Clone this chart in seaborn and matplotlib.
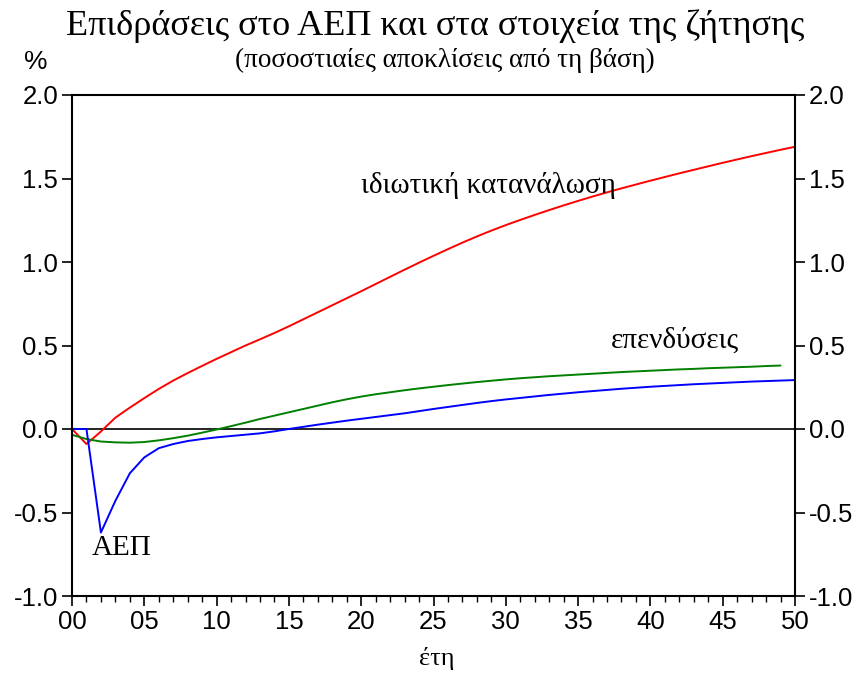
import numpy as np
import pandas as pd
import matplotlib
matplotlib.use("Agg")
import matplotlib.pyplot as plt
import seaborn as sns
from matplotlib.ticker import MultipleLocator, FuncFormatter

# ---- data (years after shock, % deviation from baseline) ----
years = list(range(0, 51))
consumption = [0.00, -0.09, -0.015, 0.068, 0.128, 0.185, 0.24, 0.29, 0.335, 0.378,
               0.42, 0.46, 0.50, 0.537, 0.575, 0.615, 0.657, 0.699, 0.741, 0.783,
               0.825, 0.868, 0.911, 0.954, 0.996, 1.037, 1.077, 1.116, 1.153, 1.188,
               1.221, 1.252, 1.282, 1.311, 1.339, 1.366, 1.392, 1.417, 1.441, 1.464,
               1.487, 1.509, 1.531, 1.552, 1.573, 1.594, 1.614, 1.634, 1.653, 1.672, 1.69]
gdp = [0.0, 0.0, -0.62, -0.43, -0.265, -0.17, -0.115, -0.09, -0.072, -0.06,
       -0.05, -0.042, -0.034, -0.026, -0.014, 0.0, 0.013, 0.026, 0.038, 0.05,
       0.061, 0.072, 0.083, 0.094, 0.107, 0.12, 0.132, 0.144, 0.156, 0.167,
       0.177, 0.186, 0.195, 0.204, 0.212, 0.22, 0.227, 0.234, 0.241, 0.247,
       0.253, 0.258, 0.263, 0.268, 0.272, 0.276, 0.28, 0.284, 0.287, 0.29, 0.293]
years_inv = list(range(0, 50))
investment = [-0.035, -0.06, -0.075, -0.08, -0.082, -0.078, -0.068, -0.055, -0.04, -0.022,
              -0.003, 0.017, 0.038, 0.06, 0.08, 0.10, 0.12, 0.14, 0.16, 0.178,
              0.194, 0.208, 0.22, 0.232, 0.243, 0.253, 0.263, 0.272, 0.281, 0.289,
              0.297, 0.304, 0.31, 0.316, 0.321, 0.326, 0.331, 0.336, 0.341, 0.345,
              0.349, 0.353, 0.357, 0.36, 0.364, 0.367, 0.37, 0.373, 0.377, 0.38]

title = "Επιδράσεις στο ΑΕΠ και στα στοιχεία της ζήτησης"
subtitle = "(ποσοστιαίες αποκλίσεις από τη βάση)"
xlabel = "έτη"
lbl_cons = "ιδιωτική κατανάλωση"
lbl_inv = "επενδύσεις"
lbl_gdp = "ΑΕΠ"

sns.set_style("white")
plt.rcParams['font.family'] = ['Liberation Sans', 'DejaVu Sans']
plt.rcParams['text.color'] = 'black'
serif = ['Liberation Serif', 'DejaVu Serif']

W, H = 868, 673
fig = plt.figure(figsize=(W / 100, H / 100), dpi=100)
ax = fig.add_axes([72 / W, 1 - 596 / H, (795 - 72) / W, (596 - 95) / H])

ax.axhline(0, color="black", lw=1.2, zorder=1)

df_c = pd.DataFrame({"t": years, "v": consumption})
df_g = pd.DataFrame({"t": years, "v": gdp})
df_i = pd.DataFrame({"t": years_inv, "v": investment})
sns.lineplot(data=df_c, x="t", y="v", ax=ax, color="#ff0000", lw=1.4)
sns.lineplot(data=df_i, x="t", y="v", ax=ax, color="#008000", lw=1.4)
sns.lineplot(data=df_g, x="t", y="v", ax=ax, color="#0000ff", lw=1.4)

ax.set_xlim(0, 50)
ax.set_ylim(-1.0, 2.0)
ax.xaxis.set_major_locator(MultipleLocator(5))
ax.xaxis.set_minor_locator(MultipleLocator(1))
ax.yaxis.set_major_locator(MultipleLocator(0.5))
ax.xaxis.set_major_formatter(FuncFormatter(lambda v, p: f"{int(round(v)):02d}"))
ax.yaxis.set_major_formatter(FuncFormatter(lambda v, p: f"{v:.1f}".replace("\u2212", "-")))

for s in ax.spines.values():
    s.set_color("black")
    s.set_linewidth(1.5)

ax.tick_params(axis="y", which="major", direction="out", length=7, width=1.2,
               left=True, right=True, labelleft=True, labelright=True,
               labelsize=18.5, pad=3, colors="black")
ax.tick_params(axis="x", which="major", direction="out", length=7, width=1.2,
               bottom=True, labelsize=18.5, pad=3, colors="black")
ax.tick_params(axis="x", which="minor", direction="out", length=4, width=1.0,
               bottom=True, colors="black")
ax.set_xlabel("")
ax.set_ylabel("")

ax.text(28.8, 1.46, lbl_cons, family=serif, fontsize=21, ha="center", va="center", color="black")
ax.text(41.7, 0.53, lbl_inv, family=serif, fontsize=21, ha="center", va="center", color="black")
ax.text(3.46, -0.71, lbl_gdp, family=serif, fontsize=21, ha="center", va="center", color="black")

fig.text(435 / W, 1 - 26 / H, title, family=serif, fontsize=26, ha="center", va="center", color="black")
fig.text(445 / W, 1 - 60 / H, subtitle, family=serif, fontsize=19.5, ha="center", va="center", color="black")
fig.text(36 / W, 1 - 62 / H, "%", fontsize=19, ha="center", va="center", color="black")
fig.text(437 / W, 1 - 659 / H, xlabel, family=serif, fontsize=19, ha="center", va="center", color="black")

fig.savefig("out.png", dpi=100)
